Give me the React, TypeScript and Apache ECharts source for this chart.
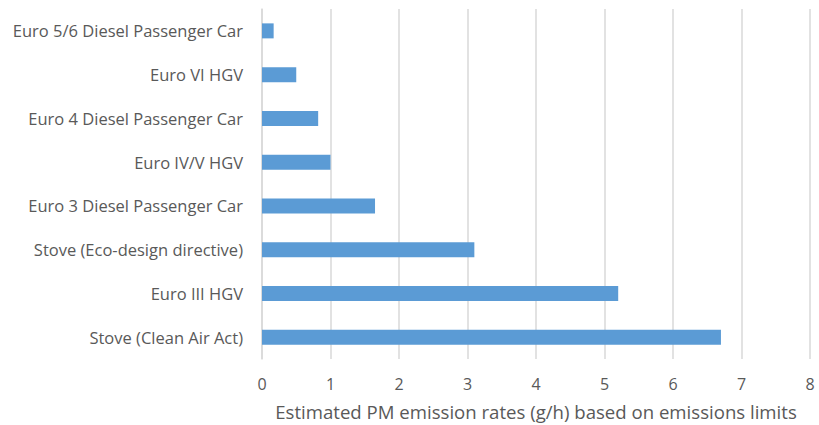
import React, { useEffect, useRef } from "react";
import * as echarts from "echarts";

const categories = [
  "Euro 5/6 Diesel Passenger Car",
  "Euro VI HGV",
  "Euro 4 Diesel Passenger Car",
  "Euro IV/V HGV",
  "Euro 3 Diesel Passenger Car",
  "Stove (Eco-design directive)",
  "Euro III HGV",
  "Stove (Clean Air Act)",
];
const values = [0.17, 0.5, 0.82, 1.0, 1.65, 3.1, 5.2, 6.7];
const axisTitle = "Estimated PM emission rates (g/h) based on emissions limits";

export default function App() {
  const ref = useRef<HTMLDivElement>(null);
  useEffect(() => {
    if (!ref.current) return;
    const chart = echarts.init(ref.current, undefined, { renderer: "svg" });
    const font = "'Open Sans', Lato, sans-serif";
    chart.setOption({
      animation: false,
      backgroundColor: "#ffffff",
      grid: { left: 262, right: 9, top: 9, bottom: 66, containLabel: false, outerBoundsMode: "none" },
      xAxis: {
        type: "value",
        min: 0,
        max: 8,
        interval: 1,
        name: axisTitle,
        nameLocation: "middle",
        nameGap: 43,
        nameTextStyle: { color: "#595959", fontSize: 18.6, lineHeight: 19, fontFamily: font },
        axisLine: { show: false },
        axisTick: { show: false },
        axisLabel: { color: "#595959", fontSize: 16, fontFamily: font, margin: 17 },
        splitLine: { show: true, lineStyle: { color: "#d9d9d9", width: 1.5 } },
      },
      yAxis: {
        type: "category",
        data: categories,
        inverse: true,
        axisLine: { show: true, lineStyle: { color: "#d9d9d9", width: 1.5 } },
        axisTick: { show: false },
        axisLabel: { color: "#595959", fontSize: 16.5, fontFamily: font, margin: 19 },
      },
      series: [
        {
          type: "bar",
          data: values,
          barWidth: 15,
          itemStyle: { color: "#5b9bd5" },
        },
      ],
    });
    return () => chart.dispose();
  }, []);
  return <div ref={ref} style={{ width: 819, height: 425, position: "absolute", left: 0, top: 0 }} />;
}
